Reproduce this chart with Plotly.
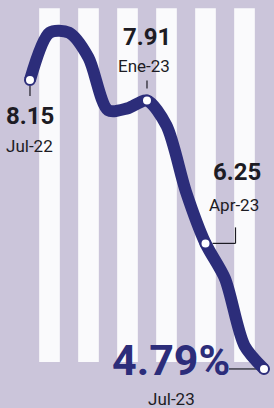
import plotly.graph_objects as go

# Data
months = ["Jul-22", "Ago-22", "Sep-22", "Oct-22", "Nov-22", "Dic-22", "Ene-23",
          "Feb-23", "Mar-23", "Abr-23", "May-23", "Jun-23", "Jul-23"]
inflation = [8.15, 8.70, 8.70, 8.41, 7.80, 7.82, 7.91, 7.62, 6.85, 6.25, 5.84, 5.06, 4.79]
marked_idx = [0, 6, 9, 12]
value_labels = ["8.15", "7.91", "6.25", "4.79%"]
date_labels = ["Jul-22", "Ene-23", "Apr-23", "Jul-23"]
stripe_idx = [1, 3, 5, 7, 9, 11]

NAVY = "#2c2d7a"
BG = "#cbc5da"
STRIPE = "#fafafc"
INK = "#1d1c24"
FONT = "Roboto, sans-serif"

x = list(range(len(months)))

fig = go.Figure()

fig.add_trace(go.Scatter(
    x=x, y=inflation, mode="lines",
    line=dict(color=NAVY, width=12, shape="spline", smoothing=0.8),
    hoverinfo="skip", showlegend=False))

fig.add_trace(go.Scatter(
    x=[x[i] for i in marked_idx], y=[inflation[i] for i in marked_idx],
    mode="markers",
    marker=dict(size=10, color="white", line=dict(color=NAVY, width=2)),
    hoverinfo="skip", showlegend=False))

shapes = []
for i in stripe_idx:
    shapes.append(dict(type="rect", xref="x", yref="paper", x0=i - 0.53, x1=i + 0.53,
                       y0=0.113, y1=0.980, fillcolor=STRIPE, line=dict(width=0),
                       layer="below"))

# connector ticks (pixel-sized, anchored to data points)
def seg(i, x0, y0, x1, y1):
    return dict(type="line", xref="x", yref="y", xsizemode="pixel", ysizemode="pixel",
                xanchor=x[i], yanchor=inflation[i], x0=x0, y0=y0, x1=x1, y1=y1,
                line=dict(color=INK, width=1.2), layer="below")

shapes.append(seg(0, 0, -6, 0, -16))
shapes.append(seg(6, 0, 12, 0, 20))
shapes.append(seg(9, 7, 0, 30, 0))
shapes.append(seg(9, 30, 0, 30, 16))
shapes.append(seg(12, -35, 0, -6, 0))

annotations = []
# label offsets in pixels relative to the marked point
offsets = [
    dict(vx=0, vy=-36, dx=0, dy=-66, vs=24, ds=17),
    dict(vx=0, vy=64, dx=-3, dy=35, vs=24, ds=17),
    dict(vx=31, vy=71, dx=28, dy=38, vs=24, ds=17),
    dict(vx=-93, vy=9, dx=-93, dy=-30, vs=43, ds=17),
]
for k, i in enumerate(marked_idx):
    o = offsets[k]
    annotations.append(dict(x=x[i], y=inflation[i], xref="x", yref="y",
                            text="<b>" + value_labels[k] + "</b>", showarrow=False,
                            xshift=o["vx"], yshift=o["vy"],
                            font=dict(family=FONT, size=o["vs"],
                                      color=NAVY if k == 3 else INK)))
    annotations.append(dict(x=x[i], y=inflation[i], xref="x", yref="y",
                            text=date_labels[k], showarrow=False,
                            xshift=o["dx"], yshift=o["dy"],
                            font=dict(family=FONT, size=o["ds"], color=INK)))

fig.update_layout(
    width=274, height=408,
    margin=dict(l=0, r=0, t=0, b=0),
    paper_bgcolor=BG, plot_bgcolor=BG,
    xaxis=dict(range=[-1.538, 12.513], visible=False, fixedrange=True),
    yaxis=dict(range=[4.336, 9.080], visible=False, fixedrange=True),
    shapes=shapes, annotations=annotations,
)

fig.write_html("out.html", config=dict(displayModeBar=False),
               post_script="document.body.style.margin='0';document.body.style.overflow='hidden';")
